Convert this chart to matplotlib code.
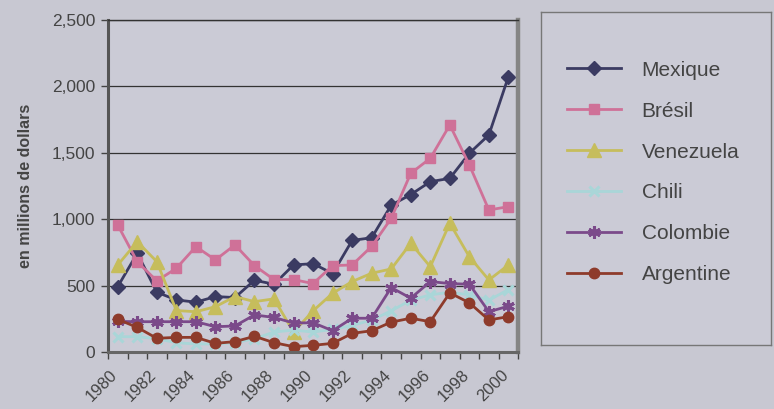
import numpy as np
import matplotlib
matplotlib.use("Agg")
import matplotlib.pyplot as plt
import matplotlib.transforms as mtransforms
from matplotlib.ticker import FuncFormatter, MultipleLocator

plt.rcParams['font.family'] = ['Liberation Sans', 'DejaVu Sans']

# valeurs (millions de dollars)
annees = list(range(1980, 2001))
mexique = [492, 743, 450, 392, 375, 417, 410, 540, 510, 655, 665, 590, 840, 860,
           1105, 1185, 1282, 1307, 1496, 1634, 2073]
bresil = [956, 680, 535, 630, 793, 693, 806, 650, 545, 545, 515, 650, 655, 795,
          1006, 1345, 1458, 1709, 1408, 1069, 1094]
venezuela = [655, 830, 680, 312, 303, 341, 417, 379, 400, 150, 310, 442, 530, 593,
             625, 818, 642, 969, 717, 542, 655]
chili = [115, 115, 100, 70, 60, 60, 70, 100, 150, 165, 150, 170, 200, 240,
         310, 390, 430, 450, 430, 390, 470]
colombie = [230, 228, 228, 228, 228, 190, 196, 279, 260, 218, 220, 160, 254, 254,
            485, 405, 530, 515, 510, 303, 345]
argentine = [246, 185, 103, 110, 110, 65, 78, 118, 70, 40, 50, 65, 140, 160,
             225, 254, 228, 445, 370, 241, 266]

series = [
    ("Mexique", mexique, "#3b3b62", "D", 7),
    ("Brésil", bresil, "#cf7198", "s", 7),
    ("Venezuela", venezuela, "#c6bd5c", "^", 10),
    ("Chili", chili, "#a9d6d8", "x", 7),
    ("Colombie", colombie, "#7b4a8a", (6, 2, 0), 9),
    ("Argentine", argentine, "#8e3b2b", "o", 7.5),
]

bg = "#c8c8d2"
fig = plt.figure(figsize=(7.74, 4.09), dpi=100, facecolor=bg)
ax = fig.add_axes([0.1395, 0.1394, 0.530, 0.812])
ax.set_facecolor("#cbcbd6")

x = np.arange(len(annees))
handles = []
for nom, vals, col, mk, ms in series:
    mew = 2.2 if mk in ("x", (6, 2, 0)) else 1
    h, = ax.plot(x, vals, color=col, lw=2.0, marker=mk, ms=ms,
                 mfc=col, mec=col, mew=mew, label=nom)
    handles.append(h)

ax.set_xlim(-0.5, len(annees) - 0.5)
ax.set_ylim(0, 2500)
ax.yaxis.set_major_locator(MultipleLocator(500))
ax.yaxis.set_major_formatter(FuncFormatter(lambda v, p: f"{int(v):,}"))
ax.grid(axis="y", color="#333333", lw=0.9)
ax.set_axisbelow(True)

ax.set_xticks(x[::2])
ax.set_xticklabels([str(a) for a in annees[::2]], rotation=45, ha="right",
                   va="top", rotation_mode="anchor")
ax.set_xticks(np.arange(-0.5, len(annees)), minor=True)
ax.tick_params(axis="x", which="major", length=0, pad=11, labelsize=12,
               labelcolor="#444444")
ax.tick_params(axis="x", which="minor", length=5, width=1, color="#444444")
ax.tick_params(axis="y", length=5, width=1, color="#444444", labelsize=12.5,
               labelcolor="#444444", pad=4)
decal = mtransforms.ScaledTranslation(-0.08, 0, fig.dpi_scale_trans)
for lab in ax.get_xticklabels():
    lab.set_transform(lab.get_transform() + decal)

ax.spines["left"].set_color("#555555")
ax.spines["left"].set_linewidth(2.2)
ax.spines["bottom"].set_color("#666666")
ax.spines["bottom"].set_linewidth(2.2)
ax.spines["right"].set_color("#858585")
ax.spines["right"].set_linewidth(3.2)
ax.spines["top"].set_color("#333333")
ax.spines["top"].set_linewidth(1)

ax.set_ylabel("en millions de dollars", fontsize=11.5, fontweight="bold",
              color="#444444", labelpad=14)

# boîte de légende
lax = fig.add_axes([0.699, 0.1565, 0.297, 0.814])
lax.set_facecolor("#cbcbd6")
lax.set_xticks([])
lax.set_yticks([])
for s in lax.spines.values():
    s.set_color("#777777")
    s.set_linewidth(1)
lax.legend(handles=handles, loc="upper left", bbox_to_anchor=(0.03, 0.91),
           frameon=False, fontsize=15, handlelength=2.6, handletextpad=1.0,
           labelspacing=1.05, labelcolor="#444444")

fig.savefig("out.png", dpi=100, facecolor=bg)
